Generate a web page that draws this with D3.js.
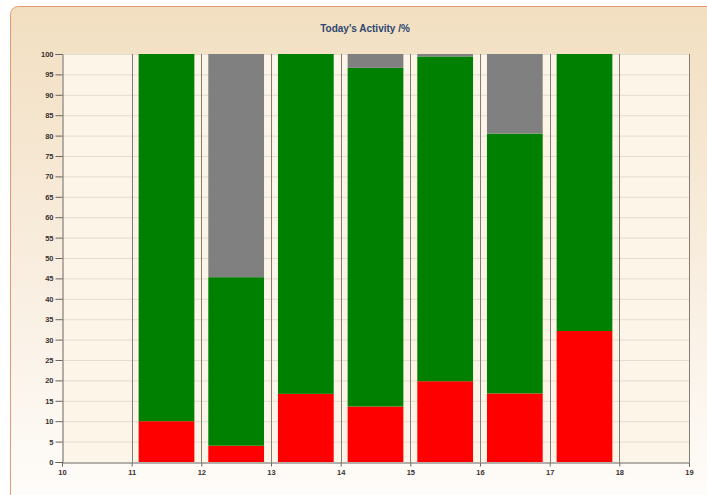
<!DOCTYPE html>
<html><head><meta charset="utf-8">
<script src="https://cdn.jsdelivr.net/npm/d3@7"></script>
<style>
html,body{margin:0;padding:0;background:#fff;}
svg{display:block;}
text{font-family:"Liberation Sans",sans-serif;}
</style></head>
<body>
<svg id="c" width="707" height="495"></svg>
<script>
const title = "Today's Activity /%";
const hours = [11, 12, 13, 14, 15, 16, 17];
const redVals   = [10, 4, 16.7, 13.6, 19.8, 16.8, 32.1];
const greenVals = [90, 41.3, 83.3, 83.0, 79.6, 63.7, 67.9];
const grayVals  = [0, 54.7, 0, 3.4, 0.6, 19.5, 0];
const seriesKeys = ["red", "green", "gray"];
const seriesColors = ["#ff0000", "#008000", "#808080"];
const xTicks = [10, 11, 12, 13, 14, 15, 16, 17, 18, 19];
const yTicks = d3.range(0, 101, 5);

const svg = d3.select("#c");
const defs = svg.append("defs");
const g = defs.append("linearGradient").attr("id","bg").attr("x1",0).attr("y1",0).attr("x2",0).attr("y2",1);
g.append("stop").attr("offset","0%").attr("stop-color","#f2dfc1");
g.append("stop").attr("offset","45%").attr("stop-color","#f8ecdc");
g.append("stop").attr("offset","100%").attr("stop-color","#fffefd");

svg.append("rect").attr("x",10.5).attr("y",6.5).attr("width",720).attr("height",520)
  .attr("rx",8).attr("fill","url(#bg)").attr("stroke","#e39a72").attr("stroke-width",1);

const m = {l:62, r:689, t:54, b:462};
const x = d3.scaleLinear().domain([10,19]).range([m.l, m.r]);
const y = d3.scaleLinear().domain([0,100]).range([m.b, m.t]);

svg.append("text").attr("x",365).attr("y",32).attr("text-anchor","middle")
  .attr("font-size",10).attr("font-weight","bold").attr("fill","#2d4770")
  .attr("font-family","Liberation Sans, sans-serif").text(title);

svg.append("rect").attr("x",m.l).attr("y",m.t).attr("width",m.r-m.l).attr("height",m.b-m.t)
  .attr("fill","#fdf5e7");

// horizontal grid
svg.append("g").selectAll("line").data(yTicks.slice(1)).join("line")
  .attr("x1",m.l).attr("x2",m.r).attr("y1",d=>y(d)+0.5).attr("y2",d=>y(d)+0.5)
  .attr("stroke","#e3ddd2").attr("stroke-width",1);

// vertical grid
svg.append("g").selectAll("line").data(xTicks.slice(1)).join("line")
  .attr("y1",m.t).attr("y2",m.b).attr("x1",d=>Math.round(x(d))+0.5).attr("x2",d=>Math.round(x(d))+0.5)
  .attr("stroke","#857c74").attr("stroke-width",1);

const rows = hours.map((h,i)=>({hour:h, red:redVals[i], green:greenVals[i], gray:grayVals[i]}));
const stack = d3.stack().keys(seriesKeys)(rows);
svg.append("g").selectAll("g").data(stack).join("g")
  .attr("fill",(d,i)=>seriesColors[i])
  .selectAll("rect").data(d=>d).join("rect")
  .attr("x",d=>x(d.data.hour+0.1))
  .attr("width",d=>x(d.data.hour+0.9)-x(d.data.hour+0.1))
  .attr("y",d=>y(Math.min(100,d[1])))
  .attr("height",d=>Math.max(0,y(d[0])-y(Math.min(100,d[1]))));

// axes
const yAxis = d3.axisLeft(y).tickValues(yTicks).tickSize(7).tickPadding(2);
const ya = svg.append("g").attr("transform",`translate(${m.l+0.5},0)`).call(yAxis);
const xAxis = d3.axisBottom(x).tickValues(xTicks).tickSize(4).tickPadding(3);
const xa = svg.append("g").attr("transform",`translate(0,${m.b+0.5})`).call(xAxis);
[ya,xa].forEach(a=>{
  a.select(".domain").attr("stroke","#6b6460");
  a.selectAll(".tick line").attr("stroke","#6b6460");
  a.selectAll(".tick text").attr("font-size",7.5).attr("font-family","Liberation Sans Narrow, Liberation Sans, sans-serif")
    .attr("fill","#3a3030").attr("font-weight","bold");
});
</script>
</body></html>
